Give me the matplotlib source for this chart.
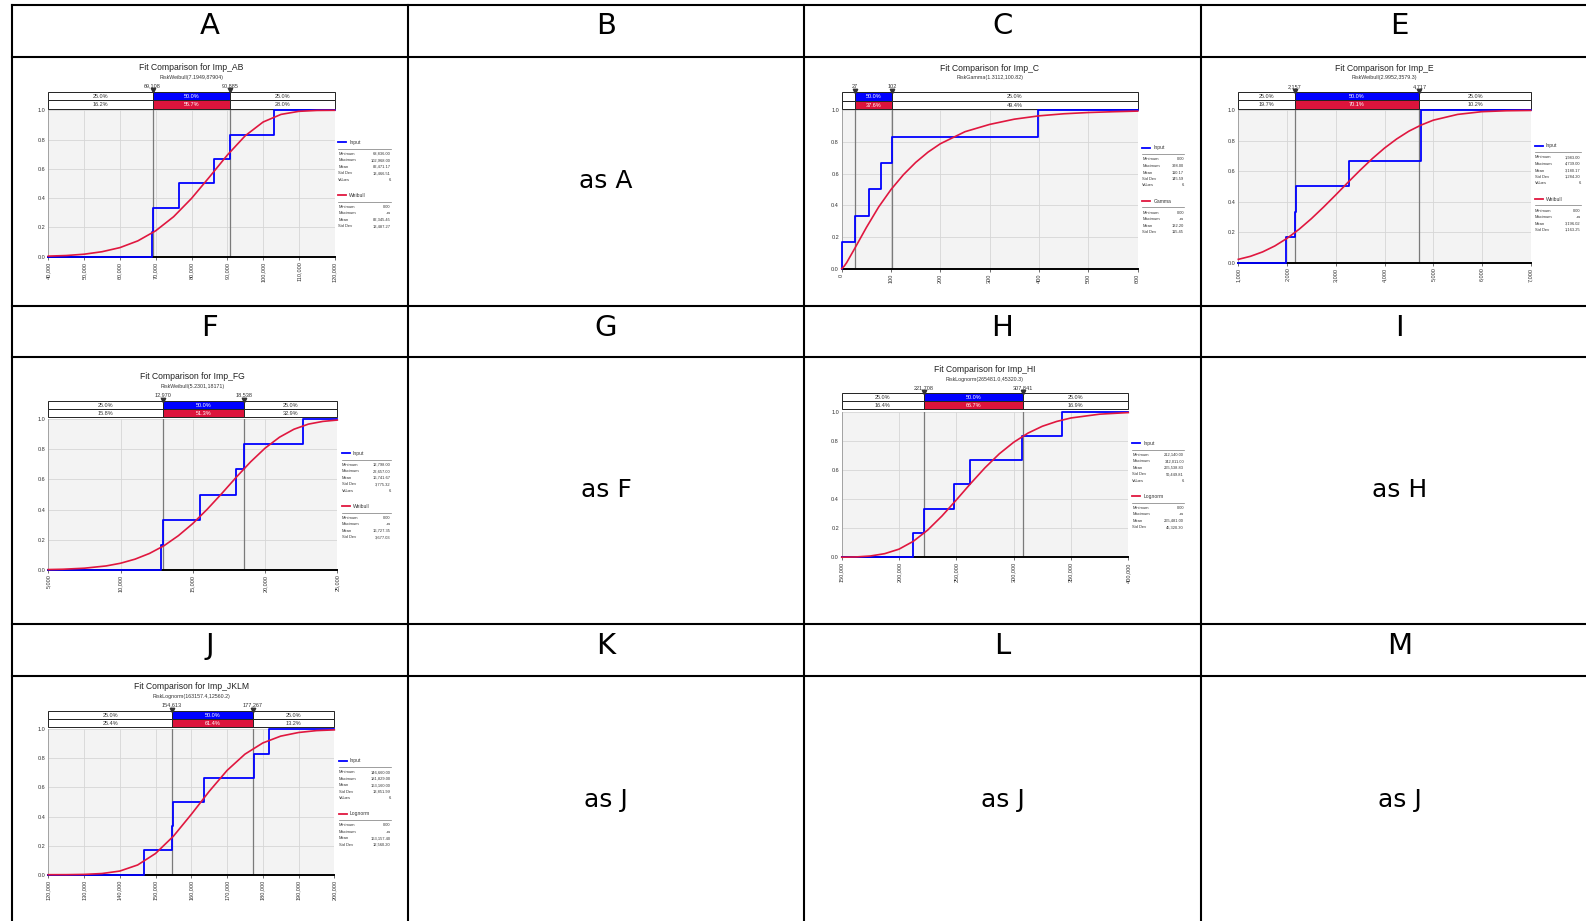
import matplotlib
matplotlib.use("Agg")
import matplotlib.pyplot as plt
from matplotlib.patches import Rectangle
from matplotlib.transforms import blended_transform_factory

plt.rcParams["font.family"] = ["DejaVu Sans"]

# ---------------- table content ----------------
HEADER_ROWS = [["A", "B", "C", "E"], ["F", "G", "H", "I"], ["J", "K", "L", "M"]]
CELL_NOTES = [["", "as A", "", ""], ["", "as F", "", "as H"], ["", "as J", "as J", "as J"]]
STAT_LABELS = ["Minimum", "Maximum", "Mean", "Std Dev", "Values"]
YTICKS = [0.0, 0.2, 0.4, 0.6, 0.8, 1.0]

# ---------------- panel AB ----------------
AB_title = "Fit Comparison for Imp_AB"
AB_dist = "RiskWeibull(7.1949,87904)"
AB_fit = "Weibull"
AB_xticks = [40000, 50000, 60000, 70000, 80000, 90000, 100000, 110000, 120000]
AB_inputs = [68836, 69200, 76500, 86400, 90850, 102968]
AB_curve_x = [40000, 45000, 50000, 55000, 60000, 65000, 70000, 75000, 80000, 85000,
              90000, 95000, 100000, 105000, 110000, 115000, 120000]
AB_curve_y = [0.004, 0.008, 0.017, 0.034, 0.062, 0.108, 0.177, 0.273, 0.398, 0.544,
              0.694, 0.826, 0.920, 0.972, 0.993, 0.999, 1.000]
AB_markers = [69108, 90885]
AB_pct_input = [25.0, 50.0, 25.0]
AB_pct_fit = [16.2, 55.7, 28.0]
AB_stats_input = ["68,836.00", "102,968.00", "82,471.17", "13,466.51", "6"]
AB_stats_fit = ["0.00", "+\u221e", "82,345.45", "13,487.27"]

# ---------------- panel C ----------------
C_title = "Fit Comparison for Imp_C"
C_dist = "RiskGamma(1.3112,100.82)"
C_fit = "Gamma"
C_xticks = [0, 100, 200, 300, 400, 500, 600]
C_inputs = [0, 26, 55, 80, 102, 398]
C_curve_x = [0, 5, 10, 25, 50, 75, 100, 125, 150, 175, 200, 250, 300, 350, 400, 450, 500, 550, 600]
C_curve_y = [0.0, 0.016, 0.038, 0.12, 0.26, 0.39, 0.50, 0.593, 0.671, 0.736, 0.789, 0.865,
             0.911, 0.944, 0.965, 0.978, 0.986, 0.991, 0.995]
C_markers = [27, 102]
C_pct_input = [25.0, 50.0, 25.0]
C_pct_fit = [13.0, 37.6, 49.4]
C_stats_input = ["0.00", "398.00", "110.17", "145.59", "6"]
C_stats_fit = ["0.00", "+\u221e", "132.20", "115.45"]

# ---------------- panel E ----------------
E_title = "Fit Comparison for Imp_E"
E_dist = "RiskWeibull(2.9952,3579.3)"
E_fit = "Weibull"
E_xticks = [1000, 2000, 3000, 4000, 5000, 6000, 7000]
E_inputs = [1983, 2155, 2190, 3275, 4739, 4739]
E_curve_x = [1000, 1250, 1500, 1750, 2000, 2250, 2500, 2750, 3000, 3250, 3500, 3750, 4000,
             4250, 4500, 4750, 5000, 5500, 6000, 6500, 7000]
E_curve_y = [0.022, 0.042, 0.071, 0.110, 0.160, 0.220, 0.289, 0.365, 0.445, 0.527, 0.607,
             0.683, 0.752, 0.812, 0.863, 0.903, 0.935, 0.973, 0.991, 0.997, 0.999]
E_markers = [2157, 4717]
E_pct_input = [25.0, 50.0, 25.0]
E_pct_fit = [19.7, 70.1, 10.2]
E_stats_input = ["1,983.00", "4,739.00", "3,180.17", "1,284.20", "6"]
E_stats_fit = ["0.00", "+\u221e", "3,196.02", "1,163.25"]

# ---------------- panel FG ----------------
F_title = "Fit Comparison for Imp_FG"
F_dist = "RiskWeibull(5.2301,18171)"
F_fit = "Weibull"
F_xticks = [5000, 10000, 15000, 20000, 25000]
F_inputs = [12798, 12970, 15470, 18010, 18540, 22657]
F_curve_x = [5000, 6000, 7500, 9000, 10000, 11000, 12000, 13000, 14000, 15000, 16000, 17000,
             18000, 19000, 20000, 21000, 22000, 23000, 24000, 25000]
F_curve_y = [0.001, 0.003, 0.010, 0.025, 0.043, 0.070, 0.108, 0.159, 0.226, 0.307, 0.402,
             0.506, 0.614, 0.717, 0.808, 0.881, 0.934, 0.968, 0.986, 0.995]
F_markers = [12970, 18538]
F_pct_input = [25.0, 50.0, 25.0]
F_pct_fit = [15.8, 51.3, 32.9]
F_stats_input = ["12,798.00", "22,657.00", "16,741.67", "3,775.32", "6"]
F_stats_fit = ["0.00", "+\u221e", "16,727.35", "3,677.03"]

# ---------------- panel HI ----------------
H_title = "Fit Comparison for Imp_HI"
H_dist = "RiskLognorm(265481.0,45320.3)"
H_fit = "Lognorm"
H_xticks = [150000, 200000, 250000, 300000, 350000, 400000]
H_inputs = [212140, 221850, 248300, 261650, 307280, 342011]
H_curve_x = [150000, 162500, 175000, 187500, 200000, 212500, 225000, 237500, 250000, 262500,
             275000, 287500, 300000, 312500, 325000, 337500, 350000, 375000, 400000]
H_curve_y = [0.0005, 0.0025, 0.009, 0.025, 0.056, 0.110, 0.187, 0.284, 0.394, 0.507,
             0.615, 0.711, 0.790, 0.853, 0.900, 0.933, 0.957, 0.983, 0.994]
H_markers = [221708, 307841]
H_pct_input = [25.0, 50.0, 25.0]
H_pct_fit = [16.4, 66.7, 16.9]
H_stats_input = ["212,140.00", "342,011.00", "265,538.83", "50,449.81", "6"]
H_stats_fit = ["0.00", "+\u221e", "265,481.00", "45,320.30"]

# ---------------- panel JKLM ----------------
J_title = "Fit Comparison for Imp_JKLM"
J_dist = "RiskLognorm(163157.4,12560.2)"
J_fit = "Lognorm"
J_xticks = [120000, 130000, 140000, 150000, 160000, 170000, 180000, 190000, 200000]
J_inputs = [146660, 154550, 154950, 163550, 177400, 181829]
J_curve_x = [120000, 125000, 130000, 135000, 140000, 145000, 150000, 155000, 160000, 165000,
             170000, 175000, 180000, 185000, 190000, 195000, 200000]
J_curve_y = [0.000, 0.0002, 0.002, 0.008, 0.025, 0.067, 0.146, 0.265, 0.415, 0.573,
             0.717, 0.829, 0.906, 0.953, 0.978, 0.991, 0.996]
J_markers = [154613, 177267]
J_pct_input = [25.0, 50.0, 25.0]
J_pct_fit = [25.4, 61.4, 13.2]
J_stats_input = ["146,660.00", "181,829.00", "163,160.00", "13,851.99", "6"]
J_stats_fit = ["0.00", "+\u221e", "163,157.40", "12,560.20"]

# ---------------- layout (pixels) ----------------
W, H = 1586, 921
COL_X = [11.5, 408, 804, 1201, 1598]
ROW_Y = [5, 57, 306, 357, 624, 676, 926]

LAYOUTS = {
    "AB": dict(plot=(48.3, 110.3, 334.7, 256.7), title_y=68.0, sub_y=77.3, mlab_y=85.7,
               bar=(92.0, 100.3, 108.7), leg=(338.3, 390.7, 142.3)),
    "C": dict(plot=(841.7, 110.3, 1137.7, 268.7), title_y=68.7, sub_y=78.0, mlab_y=86.3,
              bar=(92.3, 100.7, 109.0), leg=(1142.3, 1184.0, 148.0)),
    "E": dict(plot=(1238.3, 110.3, 1530.7, 262.7), title_y=68.7, sub_y=78.0, mlab_y=86.7,
              bar=(92.3, 100.3, 108.7), leg=(1535.0, 1580.7, 146.0)),
    "F": dict(plot=(48.3, 419.3, 337.3, 569.7), title_y=376.7, sub_y=386.0, mlab_y=394.3,
              bar=(401.3, 409.3, 417.3), leg=(341.7, 390.7, 453.3)),
    "H": dict(plot=(841.7, 411.7, 1128.3, 557.3), title_y=369.0, sub_y=379.0, mlab_y=387.3,
              bar=(393.3, 401.3, 409.3), leg=(1132.3, 1184.0, 443.3)),
    "J": dict(plot=(48.3, 729.3, 334.3, 874.7), title_y=686.7, sub_y=696.0, mlab_y=704.3,
              bar=(711.3, 719.3, 727.3), leg=(339.0, 390.7, 760.7)),
}

BLUE = "#0000ff"
RED = "#e0173f"
BAR_RED = "#dc143c"
TXT = "#333333"
FT = ["Liberation Sans", "DejaVu Sans"]

fig = plt.figure(figsize=(W / 100, H / 100), dpi=100)
ov = fig.add_axes([0, 0, 1, 1])
ov.set_xlim(0, W)
ov.set_ylim(H, 0)
ov.axis("off")


def fr(x0, y0, x1, y1):
    return [x0 / W, 1 - y1 / H, (x1 - x0) / W, (y1 - y0) / H]


# ---------------- table ----------------
for x in COL_X:
    ov.plot([x, x], [ROW_Y[0], H + 10], color="black", lw=1.5, solid_capstyle="projecting")
for y in ROW_Y:
    ov.plot([COL_X[0], W + 10], [y, y], color="black", lw=1.5, solid_capstyle="projecting")

for r in range(3):
    top = ROW_Y[2 * r]
    c_top, c_bot = ROW_Y[2 * r + 1], ROW_Y[2 * r + 2]
    for c in range(4):
        cx = (COL_X[c] + COL_X[c + 1]) / 2
        ov.text(cx, top + 29.5, HEADER_ROWS[r][c], ha="center", va="baseline",
                fontsize=21, color="black")
        if CELL_NOTES[r][c]:
            ov.text(cx, (c_top + c_bot) / 2 + 6, CELL_NOTES[r][c], ha="center",
                    va="baseline", fontsize=18, color="black")


# ---------------- fit comparison panels ----------------
def fit_panel(title, dist, fit_name, xticks, inputs, cx, cy, markers,
              pct_in, pct_fit, st_in, st_fit, lay):
    x0, y0, x1, y1 = lay["plot"]
    xmin, xmax = xticks[0], xticks[-1]
    ax = fig.add_axes(fr(x0, y0, x1, y1))
    ax.set_facecolor("#f3f3f3")
    ax.set_xlim(xmin, xmax)
    ax.set_ylim(0, 1)
    ax.set_xticks(xticks)
    ax.set_xticklabels([f"{v:,}" for v in xticks], rotation=90, fontsize=4,
                       color=TXT, family=FT)
    ax.set_yticks(YTICKS)
    ax.set_yticklabels([f"{v:.1f}" for v in YTICKS], fontsize=4, color=TXT, family=FT)
    ax.grid(True, color="#d6d6d6", lw=0.6)
    ax.set_axisbelow(True)
    for s in ("top", "right"):
        ax.spines[s].set_visible(False)
    ax.spines["left"].set_color("#9a9a9a")
    ax.spines["left"].set_linewidth(0.6)
    ax.spines["bottom"].set_color("black")
    ax.spines["bottom"].set_linewidth(1.4)
    ax.tick_params(axis="x", length=2, width=0.6, pad=1.5, color="#555555")
    ax.tick_params(axis="y", length=0, pad=2.0)

    for m in markers:
        ax.axvline(m, color="#7a7a7a", lw=0.9, zorder=2)

    n = len(inputs)
    xs = [xmin] + sorted(inputs) + [xmax]
    ys = [0.0] + [(i + 1) / n for i in range(n)] + [1.0]
    ax.step(xs, ys, where="post", color=BLUE, lw=1.3, zorder=3, clip_on=False)
    ax.plot(cx, cy, color=RED, lw=1.2, zorder=4, clip_on=False)

    T = blended_transform_factory(ax.transData, ov.transData)
    bt, bm, bb = lay["bar"]
    edges = [xmin, markers[0], markers[1], xmax]
    rows = [(bt, bm, pct_in, BLUE), (bm, bb, pct_fit, BAR_RED)]
    for ya, yb, pcts, col in rows:
        for k in range(3):
            mid = k == 1
            ov.add_patch(Rectangle((edges[k], ya), edges[k + 1] - edges[k], yb - ya,
                                   transform=T, facecolor=col if mid else "white",
                                   edgecolor="#222222", lw=0.7, clip_on=False))
            wpx = (edges[k + 1] - edges[k]) / (xmax - xmin) * (x1 - x0)
            if wpx > 22:
                ov.text((edges[k] + edges[k + 1]) / 2, (ya + yb) / 2 + 0.3,
                        f"{pcts[k]:.1f}%", transform=T, ha="center", va="center",
                        fontsize=4, color="white" if mid else TXT, family=FT)
    ov.plot(markers, [bt - 1.6] * len(markers), linestyle="none", marker="v",
            ms=3.2, color="#333333", transform=T, clip_on=False)
    for m in markers:
        ov.text(m, lay["mlab_y"], f"{m:,.0f}", transform=T, ha="center", va="center",
                fontsize=4, color=TXT, family=FT)

    pcx = (x0 + x1) / 2
    ov.text(pcx, lay["title_y"], title, ha="center", va="center", fontsize=6.2,
            color="#222222", family=FT)
    ov.text(pcx, lay["sub_y"], dist, ha="center", va="center", fontsize=3.8,
            color=TXT, family=FT)

    lx0, lx1, ly = lay["leg"]

    def block(y, name, color, labels, vals):
        ov.plot([lx0, lx0 + 8], [y, y], color=color, lw=1.3)
        ov.text(lx0 + 11, y, name, va="center", fontsize=3.6, color=TXT, family=FT)
        ov.plot([lx0, lx1], [y + 6.3, y + 6.3], color="#777777", lw=0.5)
        for i, (lab, v) in enumerate(zip(labels, vals)):
            yy = y + 11.5 + 6.5 * i
            ov.text(lx0, yy, lab, va="center", ha="left", fontsize=2.9, color=TXT, family=FT)
            ov.text(lx1, yy, v, va="center", ha="right", fontsize=2.9, color=TXT, family=FT)

    block(ly, "Input", BLUE, STAT_LABELS, st_in)
    block(ly + 53, fit_name, RED, STAT_LABELS[:4], st_fit)


fit_panel(AB_title, AB_dist, AB_fit, AB_xticks, AB_inputs, AB_curve_x, AB_curve_y, AB_markers,
          AB_pct_input, AB_pct_fit, AB_stats_input, AB_stats_fit, LAYOUTS["AB"])
fit_panel(C_title, C_dist, C_fit, C_xticks, C_inputs, C_curve_x, C_curve_y, C_markers,
          C_pct_input, C_pct_fit, C_stats_input, C_stats_fit, LAYOUTS["C"])
fit_panel(E_title, E_dist, E_fit, E_xticks, E_inputs, E_curve_x, E_curve_y, E_markers,
          E_pct_input, E_pct_fit, E_stats_input, E_stats_fit, LAYOUTS["E"])
fit_panel(F_title, F_dist, F_fit, F_xticks, F_inputs, F_curve_x, F_curve_y, F_markers,
          F_pct_input, F_pct_fit, F_stats_input, F_stats_fit, LAYOUTS["F"])
fit_panel(H_title, H_dist, H_fit, H_xticks, H_inputs, H_curve_x, H_curve_y, H_markers,
          H_pct_input, H_pct_fit, H_stats_input, H_stats_fit, LAYOUTS["H"])
fit_panel(J_title, J_dist, J_fit, J_xticks, J_inputs, J_curve_x, J_curve_y, J_markers,
          J_pct_input, J_pct_fit, J_stats_input, J_stats_fit, LAYOUTS["J"])

fig.savefig("out.png", dpi=100)
